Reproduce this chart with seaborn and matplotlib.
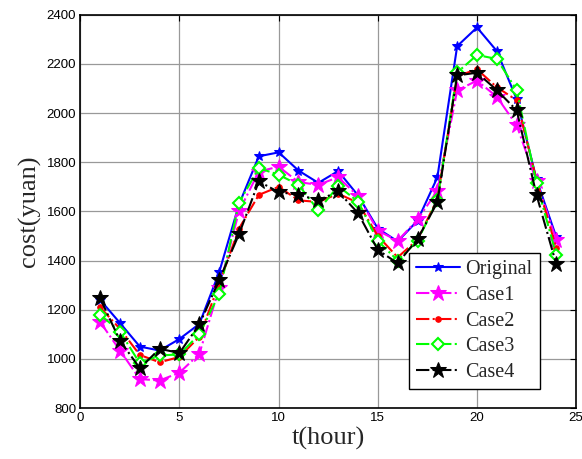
import matplotlib
matplotlib.use('Agg')
import matplotlib.pyplot as plt
import seaborn as sns
import pandas as pd

# --- data ---
hours = list(range(1, 25))
original = [1240, 1146, 1050, 1034, 1081, 1142, 1352, 1628, 1824, 1840, 1766, 1716,
            1764, 1665, 1530, 1478, 1562, 1738, 2272, 2348, 2252, 2056, 1730, 1495]
case1 = [1150, 1034, 918, 912, 944, 1020, 1288, 1600, 1762, 1782, 1719, 1708,
         1739, 1662, 1522, 1480, 1567, 1683, 2092, 2132, 2066, 1950, 1722, 1483]
case2 = [1210, 1122, 1016, 986, 1008, 1090, 1305, 1530, 1667, 1700, 1645, 1638,
         1672, 1635, 1500, 1413, 1485, 1650, 2150, 2178, 2105, 2052, 1728, 1449]
case3 = [1180, 1111, 982, 1014, 1018, 1100, 1264, 1635, 1776, 1749, 1708, 1604,
         1703, 1640, 1480, 1400, 1480, 1645, 2165, 2236, 2220, 2093, 1714, 1422]
case4 = [1246, 1074, 962, 1041, 1024, 1140, 1320, 1507, 1722, 1678, 1668, 1645,
         1681, 1593, 1443, 1389, 1487, 1637, 2153, 2164, 2093, 2011, 1667, 1384]

series_names = ['Original', 'Case1', 'Case2', 'Case3', 'Case4']
series_values = [original, case1, case2, case3, case4]

# style per series (MATLAB-like)
styles = {
    'Original': dict(color='blue', linestyle='-', marker='*', markersize=7,
                     markerfacecolor='blue', markeredgecolor='blue'),
    'Case1': dict(color='magenta', linestyle='-.', marker='*', markersize=12,
                  markerfacecolor='magenta', markeredgecolor='magenta'),
    'Case2': dict(color='red', linestyle='-.', marker='.', markersize=8,
                  markerfacecolor='red', markeredgecolor='red'),
    'Case3': dict(color='#00ff00', linestyle='-.', marker='D', markersize=6,
                  markerfacecolor='white', markeredgecolor='#00ff00', markeredgewidth=1.5),
    'Case4': dict(color='black', linestyle='-.', marker='*', markersize=12,
                  markerfacecolor='black', markeredgecolor='black'),
}

sns.set_style('white')

fig = plt.figure(figsize=(5.82, 4.59), dpi=100)
ax = fig.add_axes([0.138, 0.111, 0.852, 0.857])

for name, vals in zip(series_names, series_values):
    df = pd.DataFrame({'t': hours, 'cost': vals})
    sns.lineplot(data=df, x='t', y='cost', ax=ax, label=name, linewidth=1.5,
                 **styles[name])

ax.set_xlim(0, 25)
ax.set_ylim(800, 2400)
ax.set_xticks([0, 5, 10, 15, 20, 25])
ax.set_yticks(list(range(800, 2401, 200)))
ax.grid(True, color='#999999', linewidth=0.9, linestyle='-')
ax.set_axisbelow(True)

for sp in ax.spines.values():
    sp.set_color('black')
    sp.set_linewidth(1.2)

ax.tick_params(direction='in', length=4, width=0.8, top=True, right=True,
               labelsize=9.5, colors='black', pad=3)
for lab in ax.get_xticklabels() + ax.get_yticklabels():
    lab.set_fontfamily(['Liberation Sans', 'DejaVu Sans'])

ax.set_xlabel('t(hour)', fontsize=19, fontfamily='Liberation Serif', labelpad=2)
ax.set_ylabel('cost(yuan)', fontsize=19, fontfamily='Liberation Serif', labelpad=4)

leg = ax.legend(loc='lower left', bbox_to_anchor=(0.663, 0.048), borderaxespad=0,
                fancybox=False, framealpha=1, edgecolor='black',
                prop={'family': 'Liberation Serif', 'size': 14.5},
                handlelength=2.2, handletextpad=0.25, labelspacing=0.33,
                borderpad=0.35)
leg.get_frame().set_linewidth(1.0)

fig.savefig('out.png', dpi=100)
